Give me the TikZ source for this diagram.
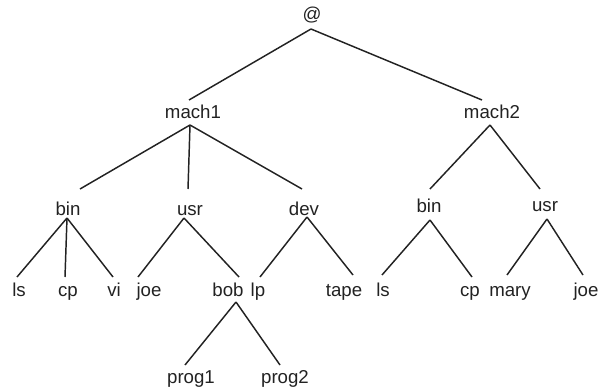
\documentclass[tikz,border=0pt]{standalone}
\usepackage{fontspec}
\setmainfont{Liberation Sans}
\definecolor{ink}{HTML}{222222}
\tikzset{
  lbl/.style={inner sep=0pt, anchor=base, text=ink, font=\fontsize{14}{16}\selectfont},
  edge/.style={draw=ink, line width=1.1pt}
}
\newcommand\treeedge[4]{\draw[edge] ([shift={(#2)}]#1.base) -- ([shift={(#4)}]#3.base);}
\begin{document}
\begin{tikzpicture}[x=0.75pt,y=-0.75pt]
\useasboundingbox (0,0) rectangle (604,389);
% nodes
\node[lbl] (root) at (312,21) {@};
\node[lbl] (m1) at (193,118) {mach1};
\node[lbl] (m2) at (492,118) {mach2};
\node[lbl] (b1) at (68,215) {bin};
\node[lbl] (u1) at (190,215) {usr};
\node[lbl] (d1) at (304,215) {dev};
\node[lbl] (b2) at (429,212) {bin};
\node[lbl] (u2) at (545,211) {usr};
\node[lbl] (ls1) at (19,296) {ls};
\node[lbl] (cp1) at (68,296) {cp};
\node[lbl] (vi) at (114,296) {vi};
\node[lbl] (joe1) at (149,296) {joe};
\node[lbl] (bob) at (228,296) {bob};
\node[lbl] (lp) at (258,296) {lp};
\node[lbl] (tape) at (344,296) {tape};
\node[lbl] (ls2) at (383,296) {ls};
\node[lbl] (cp2) at (470,296) {cp};
\node[lbl] (mary) at (510,296) {mary};
\node[lbl] (joe2) at (586,296) {joe};
\node[lbl] (prog1) at (191,383) {prog1};
\node[lbl] (prog2) at (285,383) {prog2};
% connectors
\treeedge{root}{-1,8}{m1}{-4,-18}
\treeedge{root}{-1,8}{m2}{-10,-18}
\treeedge{m1}{-3,7}{b1}{12,-26}
\treeedge{m1}{-3,7}{u1}{-2,-26}
\treeedge{m1}{-3,7}{d1}{-2,-26}
\treeedge{m2}{-2,7}{b2}{1,-23}
\treeedge{m2}{-2,7}{u2}{-5,-22}
\treeedge{b1}{-1,3}{ls1}{-2,-19}
\treeedge{b1}{-1,3}{cp1}{-3,-19}
\treeedge{b1}{-1,3}{vi}{-1,-19}
\treeedge{u1}{-6,3}{joe1}{-11,-19}
\treeedge{u1}{-6,3}{bob}{11,-19}
\treeedge{d1}{3,2}{lp}{2,-19}
\treeedge{d1}{3,2}{tape}{9,-21}
\treeedge{b2}{1,8}{ls2}{-1,-21}
\treeedge{b2}{1,8}{cp2}{2,-19}
\treeedge{u2}{2,8}{mary}{-3,-21}
\treeedge{u2}{2,8}{joe2}{-3,-21}
\treeedge{bob}{8,6}{prog1}{-6,-18}
\treeedge{bob}{8,6}{prog2}{-5,-18}
\end{tikzpicture}
\end{document}
